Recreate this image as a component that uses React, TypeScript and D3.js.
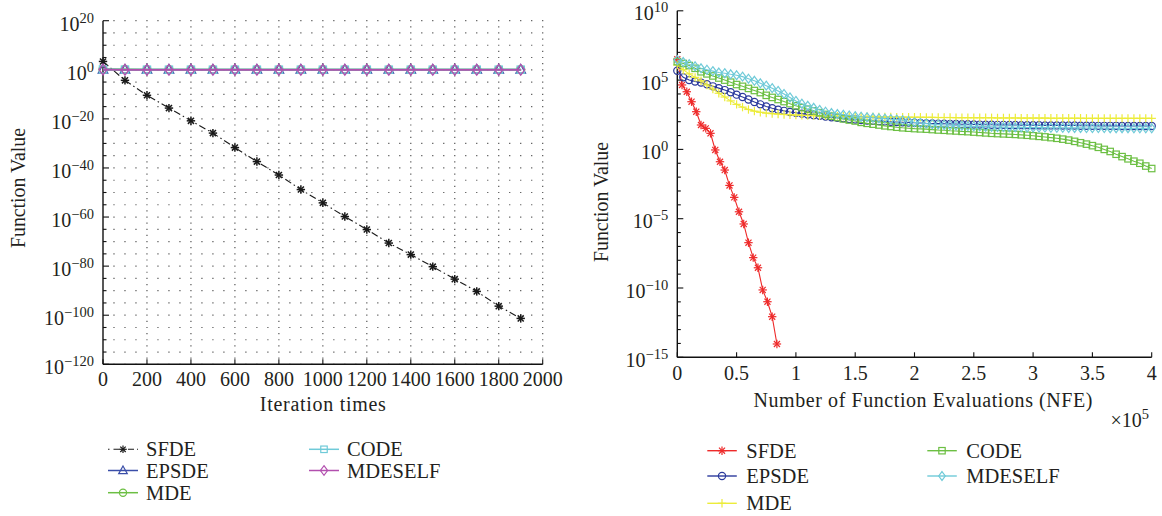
import React from "react";
import * as d3 from "d3";

const FONT = "'Liberation Serif','Times New Roman',Times,serif";
const TXT = "#231f20";

// ---------------- Left chart data (Iteration times) ----------------
const leftIterations = [0, 100, 200, 300, 400, 500, 600, 700, 800, 900, 1000, 1100, 1200, 1300, 1400, 1500, 1600, 1700, 1800, 1900];
const leftSFDE = [2.5e3, 5e-5, 4e-11, 2.5e-16, 1.6e-21, 1.6e-26, 2e-32, 4e-38, 1.3e-43, 1.6e-49, 6e-55, 1.6e-60, 8e-66, 2.5e-71, 5e-76, 6e-81, 5e-86, 5e-91, 5e-97, 5e-102];
const leftEPSDE = [1.3, 1.2, 1.2, 1.1, 1.1, 1.1, 1.1, 1.1, 1.1, 1.1, 1.1, 1.1, 1.1, 1.1, 1.1, 1.1, 1.1, 1.1, 1.1, 1.1];
const leftMDE = [1.5, 1.3, 1.2, 1.2, 1.2, 1.2, 1.2, 1.2, 1.2, 1.2, 1.2, 1.2, 1.2, 1.2, 1.2, 1.2, 1.2, 1.2, 1.2, 1.2];
const leftCODE = [1.4, 1.2, 1.1, 1.1, 1.1, 1.1, 1.1, 1.1, 1.1, 1.1, 1.1, 1.1, 1.1, 1.1, 1.1, 1.1, 1.1, 1.1, 1.1, 1.1];
const leftMDESELF = [1.2, 1.0, 1.0, 1.0, 1.0, 1.0, 1.0, 1.0, 1.0, 1.0, 1.0, 1.0, 1.0, 1.0, 1.0, 1.0, 1.0, 1.0, 1.0, 1.0];
const leftXTicks = [0, 200, 400, 600, 800, 1000, 1200, 1400, 1600, 1800, 2000];
const leftYTickExponents = [20, 0, -20, -40, -60, -80, -100, -120];

// ---------------- Right chart data (NFE) ----------------
// SFDE sampled every 4000 NFE, values as log10(f)
const rightSFDE_NFE = [0, 4000, 8000, 12000, 16000, 20000, 24000, 28000, 32000, 36000, 40000, 44000, 48000, 52000, 56000, 60000, 64000, 68000, 72000, 76000, 80000, 84000];
const rightSFDE_log = [6.5, 4.65, 4.16, 3.44, 2.72, 1.76, 1.52, 1.16, -0.04, -0.89, -1.49, -2.6, -3.46, -4.5, -5.38, -6.73, -7.81, -8.54, -10.14, -10.99, -12.07, -14.04];
// other algorithms sampled every 5000 NFE (0 .. 400000), values as log10(f)
const rightNFE = d3.range(0, 400001, 5000);
const rightEPSDE_log = [
  5.68, 5.2, 5.0, 4.9, 4.82, 4.7, 4.55, 4.42, 4.28, 4.12,
  3.95, 3.78, 3.6, 3.42, 3.25, 3.1, 2.97, 2.86, 2.78, 2.7,
  2.64, 2.58, 2.52, 2.47, 2.42, 2.37, 2.32, 2.28, 2.24, 2.2,
  2.16, 2.12, 2.09, 2.06, 2.04, 2.02, 2.0, 1.98, 1.96, 1.94,
  1.92, 1.9, 1.88, 1.87, 1.86, 1.85, 1.84, 1.83, 1.82, 1.81,
  1.8, 1.79, 1.78, 1.78, 1.77, 1.77, 1.76, 1.76, 1.75, 1.75,
  1.74, 1.74, 1.73, 1.73, 1.73, 1.72, 1.72, 1.72, 1.71, 1.71,
  1.71, 1.7, 1.7, 1.7, 1.7, 1.69, 1.69, 1.69, 1.69, 1.69,
  1.69,
];
const rightMDE_log = [
  6.09, 5.75, 5.45, 5.2, 4.95, 4.65, 4.35, 4.05, 3.78, 3.5,
  3.25, 3.05, 2.88, 2.76, 2.68, 2.62, 2.58, 2.55, 2.52, 2.5,
  2.48, 2.46, 2.45, 2.44, 2.43, 2.42, 2.41, 2.4, 2.39, 2.38,
  2.37, 2.36, 2.36, 2.35, 2.35, 2.34, 2.34, 2.33, 2.33, 2.32,
  2.32, 2.32, 2.31, 2.31, 2.3, 2.3, 2.3, 2.29, 2.29, 2.29,
  2.28, 2.28, 2.28, 2.28, 2.27, 2.27, 2.27, 2.27, 2.26, 2.26,
  2.26, 2.26, 2.26, 2.25, 2.25, 2.25, 2.25, 2.25, 2.25, 2.24,
  2.24, 2.24, 2.24, 2.24, 2.24, 2.24, 2.24, 2.24, 2.24, 2.24,
  2.24,
];
const rightCODE_log = [
  6.33, 6.2, 6.05, 5.85, 5.6, 5.45, 5.3, 5.15, 5.0, 4.85,
  4.68, 4.55, 4.4, 4.25, 4.1, 3.9, 3.75, 3.6, 3.45, 3.3,
  3.15, 3.02, 2.9, 2.78, 2.65, 2.52, 2.4, 2.3, 2.2, 2.12,
  2.05, 1.95, 1.88, 1.82, 1.76, 1.7, 1.65, 1.6, 1.56, 1.53,
  1.5, 1.48, 1.46, 1.43, 1.4, 1.38, 1.35, 1.33, 1.3, 1.28,
  1.25, 1.22, 1.19, 1.16, 1.14, 1.12, 1.1, 1.08, 1.05, 1.02,
  0.98, 0.94, 0.9, 0.85, 0.8, 0.74, 0.67, 0.58, 0.48, 0.38,
  0.27, 0.15, 0.0, -0.15, -0.35, -0.52, -0.68, -0.85, -1.0, -1.2,
  -1.38,
];
const rightMDESELF_log = [
  6.45, 6.3, 6.15, 6.0, 5.85, 5.75, 5.65, 5.55, 5.5, 5.42,
  5.35, 5.25, 5.1, 4.95, 4.77, 4.6, 4.42, 4.22, 4.0, 3.75,
  3.5, 3.3, 3.15, 3.0, 2.85, 2.72, 2.62, 2.55, 2.5, 2.45,
  2.4, 2.36, 2.32, 2.28, 2.25, 2.22, 2.18, 2.15, 2.1, 2.05,
  1.95, 1.9, 1.86, 1.82, 1.79, 1.76, 1.74, 1.72, 1.7, 1.68,
  1.66, 1.65, 1.64, 1.63, 1.62, 1.61, 1.6, 1.6, 1.59, 1.58,
  1.58, 1.57, 1.57, 1.56, 1.56, 1.56, 1.55, 1.55, 1.55, 1.54,
  1.54, 1.54, 1.54, 1.53, 1.53, 1.53, 1.53, 1.52, 1.52, 1.52,
  1.52,
];
const rightXTicks = [0, 0.5, 1, 1.5, 2, 2.5, 3, 3.5, 4];
const rightYTickExponents = [10, 5, 0, -5, -10, -15];

const TICK_FS = 20;
const SUP_FS = 14.5;
const LABEL_FS = 20;
const LEGEND_FS = 20.5;

type MarkerKind = "star" | "circle" | "plus" | "square" | "diamond" | "triangle";

function Marker({ kind, x, y, color, s, sw = 1.1 }: { kind: MarkerKind; x: number; y: number; color: string; s: number; sw?: number }) {
  if (kind === "star") {
    const d = s * 0.72;
    return (
      <g stroke={color} strokeWidth={sw}>
        <line x1={x - s} y1={y} x2={x + s} y2={y} />
        <line x1={x} y1={y - s} x2={x} y2={y + s} />
        <line x1={x - d} y1={y - d} x2={x + d} y2={y + d} />
        <line x1={x - d} y1={y + d} x2={x + d} y2={y - d} />
      </g>
    );
  }
  if (kind === "circle") return <circle cx={x} cy={y} r={s} fill="none" stroke={color} strokeWidth={sw} />;
  if (kind === "plus")
    return (
      <g stroke={color} strokeWidth={sw}>
        <line x1={x - s} y1={y} x2={x + s} y2={y} />
        <line x1={x} y1={y - s} x2={x} y2={y + s} />
      </g>
    );
  if (kind === "square") return <rect x={x - s} y={y - s} width={2 * s} height={2 * s} fill="none" stroke={color} strokeWidth={sw} />;
  if (kind === "diamond")
    return <path d={`M${x},${y - s * 1.35}L${x + s},${y}L${x},${y + s * 1.35}L${x - s},${y}Z`} fill="none" stroke={color} strokeWidth={sw} />;
  return <path d={`M${x},${y - s}L${x + s * 0.95},${y + s * 0.7}L${x - s * 0.95},${y + s * 0.7}Z`} fill="none" stroke={color} strokeWidth={sw} />;
}

function Pow10({ x, y, exp }: { x: number; y: number; exp: number }) {
  const e = exp < 0 ? "\u2212" + Math.abs(exp) : String(exp);
  return (
    <text x={x} y={y} textAnchor="end" fontFamily={FONT} fontSize={TICK_FS} fill={TXT}>
      10
      <tspan dy={-8} fontSize={SUP_FS}>{e}</tspan>
    </text>
  );
}

// ------------------- Left chart -------------------
function LeftChart() {
  const x = d3.scaleLinear().domain([0, 2000]).range([103, 542.7]);
  const y = d3.scaleLog().domain([1e-120, 1e20]).range([364.3, 20.7]);
  const top = y(1e20);
  const bottom = y(1e-120);
  const rowStep = y(1e15) - y(1e20);
  const line = d3.line<[number, number]>().x((d) => x(d[0])).y((d) => y(d[1]));

  const series = [
    { name: "SFDE", vals: leftSFDE, color: "#1a1a1a", marker: "star" as MarkerKind, s: 4.2, dash: "7 3 1.5 3" },
    { name: "EPSDE", vals: leftEPSDE, color: "#3a4ea8", marker: "triangle" as MarkerKind, s: 5, dash: undefined },
    { name: "MDE", vals: leftMDE, color: "#6cbf43", marker: "circle" as MarkerKind, s: 4, dash: undefined },
    { name: "CODE", vals: leftCODE, color: "#6fcad8", marker: "square" as MarkerKind, s: 3.6, dash: undefined },
    { name: "MDESELF", vals: leftMDESELF, color: "#b24fae", marker: "diamond" as MarkerKind, s: 4, dash: undefined },
  ];

  const minorX = d3.range(50, 2001, 50);
  const minorY = d3.range(20, -121, -5);

  return (
    <g>
      {minorX.map((v) => {
        const major = v % 200 === 0;
        const period = major ? rowStep / 2 : rowStep;
        return (
          <line key={"gx" + v} x1={x(v)} x2={x(v)} y1={top - 0.6} y2={bottom} stroke="#555" strokeWidth={1.2}
            strokeDasharray={`1.2 ${period - 1.2}`} />
        );
      })}
      <line x1={x(0)} x2={x(0)} y1={top} y2={bottom} stroke="#111" strokeWidth={1.4} />
      <line x1={x(0)} x2={x(2000)} y1={bottom} y2={bottom} stroke="#111" strokeWidth={1.4} />
      {minorY.map((e) => (
        <line key={"ty" + e} x1={x(0)} x2={x(0) + (e % 20 === 0 ? 6 : 3.5)} y1={y(Math.pow(10, e))} y2={y(Math.pow(10, e))} stroke="#111" strokeWidth={1.1} />
      ))}
      {leftXTicks.map((t) => (
        <line key={"tx" + t} x1={x(t)} x2={x(t)} y1={bottom} y2={bottom - 5} stroke="#111" strokeWidth={1.1} />
      ))}
      {leftYTickExponents.map((e) => (
        <Pow10 key={"ly" + e} x={x(0) - 9} y={y(Math.pow(10, e)) + 10} exp={e} />
      ))}
      {leftXTicks.map((t) => (
        <text key={"lx" + t} x={x(t)} y={bottom + 22} textAnchor="middle" fontFamily={FONT} fontSize={TICK_FS} fill={TXT}>{t}</text>
      ))}
      <text x={(x(0) + x(2000)) / 2} y={411} textAnchor="middle" fontFamily={FONT} fontSize={LABEL_FS} fill={TXT} textLength={126} lengthAdjust="spacing">Iteration times</text>
      <text transform={`translate(25,188) rotate(-90)`} textAnchor="middle" fontFamily={FONT} fontSize={LABEL_FS} fill={TXT} textLength={120} lengthAdjust="spacingAndGlyphs">Function Value</text>

      {series.map((s) => {
        const pts: [number, number][] = leftIterations.map((it, i) => [it, s.vals[i]]);
        return (
          <g key={s.name}>
            <path d={line(pts) || ""} fill="none" stroke={s.color} strokeWidth={s.name === "SFDE" ? 1.1 : 1.8} strokeDasharray={s.dash} />
            {pts.map((p, i) => (
              <Marker key={i} kind={s.marker} x={x(p[0])} y={y(p[1])} color={s.color} s={s.s} sw={s.name === "SFDE" ? 1.5 : 1.3} />
            ))}
          </g>
        );
      })}

      {series.map((s, i) => {
        const col = i < 3 ? 0 : 1;
        const row = i < 3 ? i : i - 3;
        const x0 = col === 0 ? 108 : 309;
        const yc = [449.3, 470.5, 492.7][row];
        return (
          <g key={"lg" + s.name}>
            <line x1={x0} x2={x0 + 30} y1={yc} y2={yc} stroke={s.color} strokeWidth={s.name === "SFDE" ? 1.1 : 1.5} strokeDasharray={s.name === "SFDE" ? "1.5 4 6 3" : undefined} />
            <Marker kind={s.marker} x={x0 + 15} y={yc} color={s.color} s={s.s * 0.9} sw={1.2} />
            <text x={x0 + 38} y={yc + 7} fontFamily={FONT} fontSize={LEGEND_FS} fill={TXT}>{s.name}</text>
          </g>
        );
      })}
    </g>
  );
}

// ------------------- Right chart -------------------
function RightChart() {
  const x = d3.scaleLinear().domain([0, 4e5]).range([677.3, 1151.7]);
  const y = d3.scaleLog().domain([1e-15, 1e10]).range([357.3, 10.8]);
  const top = y(1e10);
  const bottom = y(1e-15);
  const line = d3.line<[number, number]>().x((d) => x(d[0])).y((d) => y(Math.pow(10, d[1])));

  const series = [
    { name: "SFDE", nfe: rightSFDE_NFE, vals: rightSFDE_log, color: "#ee2a2a", marker: "star" as MarkerKind, s: 4.2 },
    { name: "EPSDE", nfe: rightNFE, vals: rightEPSDE_log, color: "#2b3a9c", marker: "circle" as MarkerKind, s: 3.6 },
    { name: "MDE", nfe: rightNFE, vals: rightMDE_log, color: "#ecec3a", marker: "plus" as MarkerKind, s: 4.2 },
    { name: "CODE", nfe: rightNFE, vals: rightCODE_log, color: "#6cbf43", marker: "square" as MarkerKind, s: 3.2 },
    { name: "MDESELF", nfe: rightNFE, vals: rightMDESELF_log, color: "#6fcad8", marker: "diamond" as MarkerKind, s: 3.3 },
  ];

  const decades = d3.range(10, -16, -1);

  return (
    <g>
      <line x1={x(0)} x2={x(0)} y1={top} y2={bottom} stroke="#111" strokeWidth={1.4} />
      <line x1={x(0)} x2={x(4e5)} y1={bottom} y2={bottom} stroke="#111" strokeWidth={1.4} />
      {decades.map((e) => (
        <line key={"ty" + e} x1={x(0)} x2={x(0) + (e % 5 === 0 ? 6 : 3.5)} y1={y(Math.pow(10, e))} y2={y(Math.pow(10, e))} stroke="#111" strokeWidth={1.1} />
      ))}
      {rightXTicks.map((t) => (
        <line key={"tx" + t} x1={x(t * 1e5)} x2={x(t * 1e5)} y1={bottom} y2={bottom - 5} stroke="#111" strokeWidth={1.1} />
      ))}
      {rightYTickExponents.map((e) => (
        <Pow10 key={"ry" + e} x={x(0) - 9} y={y(Math.pow(10, e)) + 9.5} exp={e} />
      ))}
      {rightXTicks.map((t) => (
        <text key={"rx" + t} x={x(t * 1e5)} y={bottom + 22.5} textAnchor="middle" fontFamily={FONT} fontSize={TICK_FS} fill={TXT}>{String(t)}</text>
      ))}
      <text x={923} y={406.5} textAnchor="middle" fontFamily={FONT} fontSize={LABEL_FS} fill={TXT} textLength={339} lengthAdjust="spacing">Number of Function Evaluations (NFE)</text>
      <text x={1110.5} y={426.7} fontFamily={FONT} fontSize={TICK_FS} fill={TXT}>
        ×10<tspan dy={-8} fontSize={SUP_FS}>5</tspan>
      </text>
      <text transform={`translate(607.5,202) rotate(-90)`} textAnchor="middle" fontFamily={FONT} fontSize={LABEL_FS} fill={TXT} textLength={120} lengthAdjust="spacingAndGlyphs">Function Value</text>

      {series.map((s) => {
        const pts: [number, number][] = s.nfe.map((n, i) => [n, s.vals[i]]);
        return (
          <g key={s.name}>
            <path d={line(pts) || ""} fill="none" stroke={s.color} strokeWidth={1.1} />
            {pts.map((p, i) => (
              <Marker key={i} kind={s.marker} x={x(p[0])} y={y(Math.pow(10, p[1]))} color={s.color} s={s.s} sw={1.2} />
            ))}
          </g>
        );
      })}

      {series.map((s, i) => {
        const col = i <= 2 ? 0 : 1;
        const row = col === 0 ? i : i - 3;
        const x0 = col === 0 ? 707.3 : 927.3;
        const yc = [450.7, 476, 503.3][row];
        return (
          <g key={"lg" + s.name}>
            <line x1={x0} x2={x0 + 29.5} y1={yc} y2={yc} stroke={s.color} strokeWidth={1.4} />
            <Marker kind={s.marker} x={x0 + 14.7} y={yc} color={s.color} s={s.s} sw={1.2} />
            <text x={x0 + 39} y={yc + 7} fontFamily={FONT} fontSize={LEGEND_FS} fill={TXT}>{s.name}</text>
          </g>
        );
      })}
    </g>
  );
}

export default function App() {
  return (
    <svg width={1162} height={516} viewBox="0 0 1162 516" style={{ position: "absolute", left: 0, top: 0, display: "block", background: "#fff" }}>
      <rect x={0} y={0} width={1162} height={516} fill="#fff" />
      <LeftChart />
      <RightChart />
    </svg>
  );
}
